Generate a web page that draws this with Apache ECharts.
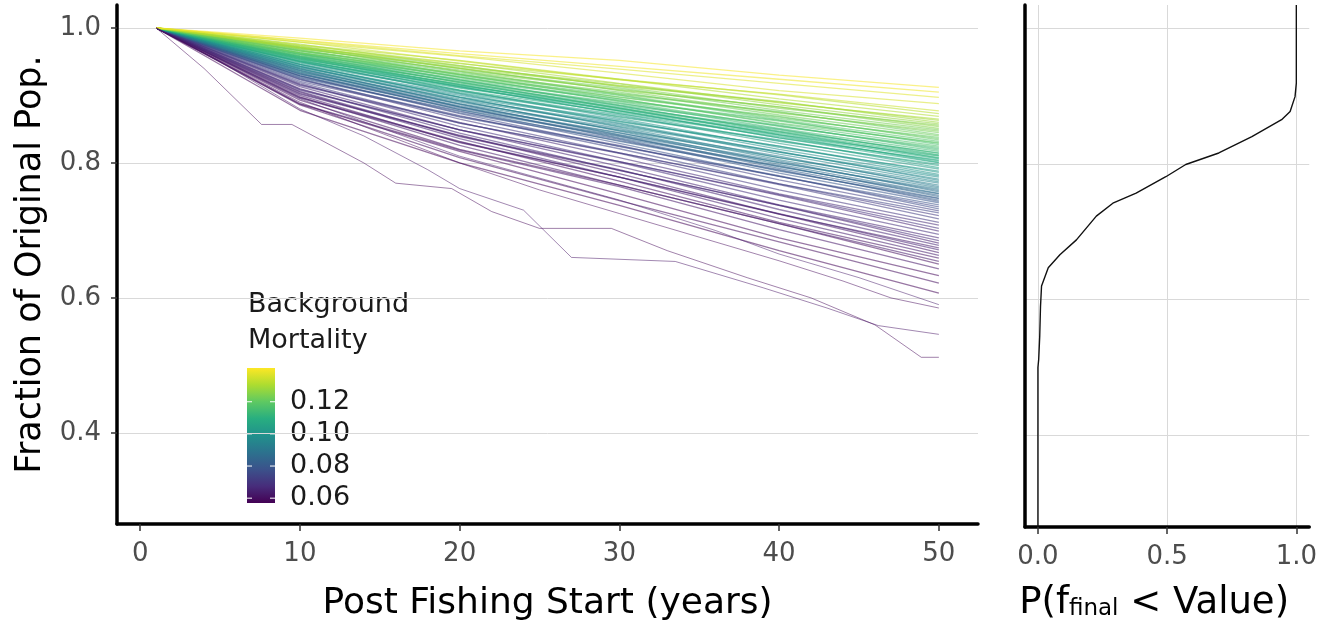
<!DOCTYPE html>
<html>
<head>
<meta charset="utf-8">
<script src="https://cdn.jsdelivr.net/npm/echarts@6/dist/echarts.min.js"></script>
<style>
html,body{margin:0;padding:0;background:#fff;}
#chart{width:1320px;height:627px;}
</style>
</head>
<body>
<div id="chart"></div>
<script>
// ---------------- data ----------------
const YEARS = [1, 10, 20, 30, 40, 50];

const MORTALITY = [
  0.058, 0.060, 0.059, 0.062, 0.060, 0.063, 0.061, 0.064, 0.062, 0.065,
  0.063, 0.066, 0.064, 0.067, 0.065, 0.068, 0.066, 0.069, 0.067, 0.070,
  0.072, 0.071, 0.074, 0.073, 0.076, 0.075, 0.078, 0.080, 0.079, 0.082,
  0.081, 0.083, 0.085, 0.084, 0.086, 0.087, 0.089, 0.088, 0.090, 0.092,
  0.091, 0.093, 0.094, 0.096, 0.095, 0.097, 0.098, 0.099, 0.100, 0.102,
  0.101, 0.103, 0.104, 0.106, 0.105, 0.107, 0.108, 0.109, 0.108, 0.110,
  0.109, 0.111, 0.110, 0.112, 0.111, 0.113, 0.112, 0.114, 0.115, 0.114,
  0.116, 0.117, 0.116, 0.118, 0.119, 0.118, 0.120, 0.121, 0.120, 0.122,
  0.121, 0.123, 0.124, 0.123, 0.125, 0.126, 0.125, 0.127, 0.128, 0.129,
  0.130, 0.131, 0.132, 0.134, 0.136, 0.139, 0.140, 0.137
];

const POP_FRACTION = [
  [1, 0.878, 0.800, 0.737, 0.670, 0.607],
  [1, 0.886, 0.808, 0.744, 0.683, 0.622],
  [1, 0.887, 0.817, 0.754, 0.689, 0.633],
  [1, 0.888, 0.819, 0.765, 0.701, 0.643],
  [1, 0.893, 0.820, 0.767, 0.710, 0.650],
  [1, 0.898, 0.826, 0.767, 0.710, 0.654],
  [1, 0.897, 0.832, 0.773, 0.712, 0.659],
  [1, 0.896, 0.831, 0.779, 0.718, 0.663],
  [1, 0.900, 0.830, 0.779, 0.724, 0.667],
  [1, 0.905, 0.836, 0.779, 0.725, 0.671],
  [1, 0.903, 0.841, 0.784, 0.724, 0.674],
  [1, 0.902, 0.840, 0.790, 0.731, 0.678],
  [1, 0.906, 0.839, 0.789, 0.737, 0.681],
  [1, 0.910, 0.844, 0.789, 0.737, 0.685],
  [1, 0.909, 0.849, 0.795, 0.738, 0.689],
  [1, 0.908, 0.849, 0.801, 0.745, 0.694],
  [1, 0.913, 0.849, 0.802, 0.752, 0.699],
  [1, 0.917, 0.854, 0.802, 0.753, 0.703],
  [1, 0.916, 0.860, 0.808, 0.754, 0.708],
  [1, 0.915, 0.859, 0.814, 0.760, 0.712],
  [1, 0.919, 0.859, 0.815, 0.768, 0.717],
  [1, 0.924, 0.865, 0.815, 0.769, 0.722],
  [1, 0.923, 0.870, 0.821, 0.769, 0.726],
  [1, 0.921, 0.869, 0.826, 0.775, 0.729],
  [1, 0.925, 0.868, 0.825, 0.781, 0.732],
  [1, 0.929, 0.873, 0.824, 0.780, 0.735],
  [1, 0.927, 0.877, 0.829, 0.780, 0.738],
  [1, 0.926, 0.876, 0.835, 0.785, 0.741],
  [1, 0.929, 0.874, 0.833, 0.790, 0.743],
  [1, 0.933, 0.879, 0.832, 0.789, 0.745],
  [1, 0.931, 0.883, 0.836, 0.788, 0.747],
  [1, 0.929, 0.881, 0.840, 0.792, 0.748],
  [1, 0.932, 0.879, 0.839, 0.796, 0.750],
  [1, 0.937, 0.883, 0.837, 0.795, 0.752],
  [1, 0.934, 0.887, 0.841, 0.794, 0.754],
  [1, 0.932, 0.885, 0.845, 0.798, 0.755],
  [1, 0.936, 0.883, 0.844, 0.803, 0.757],
  [1, 0.940, 0.887, 0.842, 0.801, 0.759],
  [1, 0.937, 0.892, 0.847, 0.800, 0.761],
  [1, 0.935, 0.890, 0.851, 0.805, 0.763],
  [1, 0.939, 0.888, 0.849, 0.810, 0.765],
  [1, 0.943, 0.892, 0.848, 0.808, 0.767],
  [1, 0.941, 0.897, 0.853, 0.808, 0.770],
  [1, 0.939, 0.895, 0.858, 0.813, 0.772],
  [1, 0.943, 0.893, 0.856, 0.817, 0.774],
  [1, 0.946, 0.897, 0.854, 0.816, 0.776],
  [1, 0.944, 0.902, 0.859, 0.816, 0.779],
  [1, 0.942, 0.900, 0.864, 0.820, 0.781],
  [1, 0.946, 0.898, 0.862, 0.825, 0.783],
  [1, 0.950, 0.903, 0.861, 0.825, 0.786],
  [1, 0.948, 0.907, 0.866, 0.823, 0.788],
  [1, 0.946, 0.906, 0.871, 0.829, 0.791],
  [1, 0.950, 0.904, 0.869, 0.834, 0.793],
  [1, 0.953, 0.908, 0.868, 0.833, 0.796],
  [1, 0.951, 0.913, 0.873, 0.832, 0.798],
  [1, 0.949, 0.911, 0.877, 0.837, 0.800],
  [1, 0.952, 0.908, 0.875, 0.841, 0.801],
  [1, 0.956, 0.913, 0.873, 0.839, 0.803],
  [1, 0.954, 0.916, 0.877, 0.837, 0.804],
  [1, 0.951, 0.914, 0.881, 0.842, 0.806],
  [1, 0.955, 0.912, 0.879, 0.846, 0.807],
  [1, 0.958, 0.916, 0.877, 0.844, 0.808],
  [1, 0.956, 0.920, 0.881, 0.842, 0.810],
  [1, 0.954, 0.917, 0.885, 0.846, 0.811],
  [1, 0.957, 0.915, 0.883, 0.850, 0.812],
  [1, 0.961, 0.919, 0.881, 0.849, 0.814],
  [1, 0.958, 0.923, 0.885, 0.847, 0.815],
  [1, 0.956, 0.921, 0.889, 0.851, 0.817],
  [1, 0.959, 0.919, 0.888, 0.856, 0.819],
  [1, 0.963, 0.923, 0.886, 0.855, 0.821],
  [1, 0.961, 0.927, 0.891, 0.854, 0.823],
  [1, 0.959, 0.925, 0.895, 0.858, 0.825],
  [1, 0.962, 0.923, 0.893, 0.863, 0.827],
  [1, 0.966, 0.927, 0.892, 0.862, 0.829],
  [1, 0.963, 0.931, 0.895, 0.859, 0.830],
  [1, 0.961, 0.929, 0.900, 0.864, 0.832],
  [1, 0.964, 0.927, 0.898, 0.869, 0.834],
  [1, 0.968, 0.931, 0.897, 0.868, 0.836],
  [1, 0.966, 0.935, 0.901, 0.866, 0.838],
  [1, 0.963, 0.933, 0.905, 0.871, 0.840],
  [1, 0.967, 0.931, 0.903, 0.876, 0.842],
  [1, 0.971, 0.936, 0.902, 0.875, 0.845],
  [1, 0.969, 0.940, 0.907, 0.874, 0.847],
  [1, 0.966, 0.938, 0.911, 0.878, 0.849],
  [1, 0.970, 0.936, 0.909, 0.883, 0.851],
  [1, 0.973, 0.940, 0.908, 0.883, 0.854],
  [1, 0.971, 0.944, 0.913, 0.881, 0.856],
  [1, 0.969, 0.942, 0.917, 0.886, 0.858],
  [1, 0.972, 0.940, 0.915, 0.891, 0.860],
  [1, 0.976, 0.944, 0.914, 0.890, 0.863],
  [1, 0.974, 0.948, 0.918, 0.889, 0.865],
  [1, 0.971, 0.947, 0.924, 0.895, 0.869],
  [1, 0.975, 0.952, 0.924, 0.901, 0.873],
  [1, 0.979, 0.951, 0.923, 0.902, 0.877],
  [1, 0.979, 0.958, 0.933, 0.907, 0.888],
  [1, 0.982, 0.962, 0.943, 0.924, 0.905],
  [1, 0.985, 0.966, 0.952, 0.930, 0.912],
  [1, 0.981, 0.959, 0.939, 0.918, 0.897]
];

// the few low, step-like trajectories
const OUTLIER_MORTALITY = [0.058, 0.061, 0.059, 0.063];
const OUTLIER_YEARS = [
  [1, 4, 7.6, 9.5, 14, 16, 19.5, 22, 25, 29.5, 33, 38, 42, 46, 48.9, 50],
  [1, 5, 10, 14, 18, 20, 24, 27, 33.5, 39, 43, 46.2, 50],
  [1, 10, 20, 25, 30, 35, 40, 44, 47, 50],
  [1, 10, 20, 30, 36, 40, 45, 50]
];
const OUTLIER_FRACTION = [
  [1, 0.940, 0.857, 0.857, 0.800, 0.770, 0.762, 0.728, 0.703, 0.703, 0.670, 0.630, 0.600, 0.560, 0.512, 0.512],
  [1, 0.950, 0.880, 0.840, 0.790, 0.762, 0.730, 0.660, 0.654, 0.615, 0.585, 0.559, 0.546],
  [1, 0.890, 0.800, 0.760, 0.725, 0.690, 0.655, 0.625, 0.600, 0.585],
  [1, 0.895, 0.810, 0.745, 0.700, 0.665, 0.630, 0.590]
];

// empirical CDF of the final fraction (right panel)
const CDF_P     = [0.000, 0.003, 0.007, 0.010, 0.014, 0.040, 0.085, 0.149, 0.226, 0.290, 0.380, 0.495, 0.572, 0.700, 0.828, 0.943, 0.976, 0.995, 1.000];
const CDF_VALUE = [0.500, 0.512, 0.546, 0.590, 0.620, 0.647, 0.666, 0.688, 0.723, 0.742, 0.757, 0.781, 0.799, 0.816, 0.840, 0.865, 0.877, 0.899, 0.919];

const X_TICKS = [0, 10, 20, 30, 40, 50];
const Y_TICKS = [0.4, 0.6, 0.8, 1.0];
const P_TICKS = [0, 0.5, 1.0];
const LEGEND_TICKS = [0.06, 0.08, 0.10, 0.12];

const X_RANGE = [-1.45, 52.45];
const Y_RANGE = [0.265, 1.034];
const P_RANGE = [-0.05, 1.05];
const MORT_RANGE = [0.057, 0.141];

const VIRIDIS = ['#440154', '#472d7b', '#3b528b', '#2c728e', '#21918c', '#28ae80', '#5ec962', '#addc30', '#fde725'];

// ---------------- helpers ----------------
function hexToRgb(h) {
  return [parseInt(h.slice(1, 3), 16), parseInt(h.slice(3, 5), 16), parseInt(h.slice(5, 7), 16)];
}
function viridis(m) {
  let t = (m - MORT_RANGE[0]) / (MORT_RANGE[1] - MORT_RANGE[0]);
  t = Math.max(0, Math.min(1, t));
  const s = t * (VIRIDIS.length - 1);
  const i = Math.min(VIRIDIS.length - 2, Math.floor(s));
  const f = s - i;
  const a = hexToRgb(VIRIDIS[i]), b = hexToRgb(VIRIDIS[i + 1]);
  const c = a.map((v, k) => Math.round(v + (b[k] - v) * f));
  return 'rgb(' + c.join(',') + ')';
}

const FONT = 'DejaVu Sans';
const GRID_LEFT = { left: 117, top: 5, width: 861, height: 522 };
const GRID_RIGHT = { left: 1025, top: 5, width: 287, height: 522 };

const series = [];
POP_FRACTION.forEach((row, i) => {
  series.push({
    type: 'line', xAxisIndex: 0, yAxisIndex: 0,
    data: YEARS.map((yr, j) => [yr, row[j]]),
    showSymbol: false, symbol: 'none', silent: true, z: 2,
    lineStyle: { color: viridis(MORTALITY[i]), width: 1.3, opacity: 0.55 }
  });
});
OUTLIER_FRACTION.forEach((row, i) => {
  series.push({
    type: 'line', xAxisIndex: 0, yAxisIndex: 0,
    data: OUTLIER_YEARS[i].map((yr, j) => [yr, row[j]]),
    showSymbol: false, symbol: 'none', silent: true, z: 2,
    lineStyle: { color: viridis(OUTLIER_MORTALITY[i]), width: 1.0, opacity: 0.5 }
  });
});
const cdfData = [[CDF_P[0], Y_RANGE[0]]]
  .concat(CDF_P.map((p, i) => [p, CDF_VALUE[i]]))
  .concat([[CDF_P[CDF_P.length - 1], Y_RANGE[1]]]);
series.push({
  type: 'line', xAxisIndex: 1, yAxisIndex: 1, data: cdfData,
  showSymbol: false, symbol: 'none', silent: true, z: 3,
  lineStyle: { color: '#111', width: 1.4 }
});

// ---------------- legend (colour bar) ----------------
const BAR = { x: 247, y: 368, w: 28, h: 135 };
function barY(v) {
  return BAR.y + (MORT_RANGE[1] - v) / (MORT_RANGE[1] - MORT_RANGE[0]) * BAR.h;
}
const graphics = [
  {
    type: 'text', left: 248, top: 287, silent: true,
    style: { text: 'Background\nMortality', font: '27px "' + FONT + '"', fill: '#1a1a1a', lineHeight: 36 }
  },
  {
    type: 'rect', shape: { x: BAR.x, y: BAR.y, width: BAR.w, height: BAR.h }, silent: true,
    style: {
      fill: new echarts.graphic.LinearGradient(0, 1, 0, 0,
        VIRIDIS.map((c, i) => ({ offset: i / (VIRIDIS.length - 1), color: c })))
    }
  }
];
LEGEND_TICKS.forEach(v => {
  const y = barY(v);
  graphics.push({
    type: 'text', silent: true, x: 290, y: y,
    style: { text: v.toFixed(2), font: '27px "' + FONT + '"', fill: '#1a1a1a', verticalAlign: 'middle', align: 'left' }
  });
  graphics.push({ type: 'line', silent: true, shape: { x1: BAR.x, y1: y, x2: BAR.x + 5, y2: y }, style: { stroke: '#fff', lineWidth: 1 } });
  graphics.push({ type: 'line', silent: true, shape: { x1: BAR.x + BAR.w - 5, y1: y, x2: BAR.x + BAR.w, y2: y }, style: { stroke: '#fff', lineWidth: 1 } });
});

const axisLine = { show: true, onZero: false, lineStyle: { color: '#000', width: 3.5 } };
const gridLine = { show: true, lineStyle: { color: '#d9d9d9', width: 1 } };
const tickLabel = { color: '#4d4d4d', fontSize: 26, fontFamily: FONT };

const option = {
  animation: false,
  backgroundColor: '#fff',
  grid: [GRID_LEFT, GRID_RIGHT],
  xAxis: [
    {
      type: 'value', gridIndex: 0, min: X_RANGE[0], max: X_RANGE[1],
      axisLine: axisLine,
      axisTick: { show: true, customValues: X_TICKS, length: 7, lineStyle: { color: '#333', width: 1.5 } },
      axisLabel: Object.assign({ customValues: X_TICKS, margin: 17, formatter: v => String(v) }, tickLabel),
      splitLine: { show: false },
      name: 'Post Fishing Start (years)', nameLocation: 'middle', nameGap: 62,
      nameTextStyle: { fontSize: 36, fontFamily: FONT, color: '#000' }
    },
    {
      type: 'value', gridIndex: 1, min: P_RANGE[0], max: P_RANGE[1],
      axisLine: axisLine,
      axisTick: { show: true, customValues: P_TICKS, length: 7, lineStyle: { color: '#333', width: 1.5 } },
      axisLabel: Object.assign({ customValues: P_TICKS, margin: 17, formatter: v => v.toFixed(1) }, tickLabel),
      splitLine: gridLine,
      name: '{n|P(f}{s|final}{n| < Value)}', nameLocation: 'middle', nameGap: 58,
      nameTextStyle: {
        padding: [0, 26, 0, 0],
        rich: {
          n: { fontSize: 37, fontFamily: FONT, color: '#000', verticalAlign: 'top', lineHeight: 44 },
          s: { fontSize: 23, fontFamily: FONT, color: '#000', verticalAlign: 'top', lineHeight: 44, padding: [13, 0, 0, 0] }
        }
      }
    }
  ],
  yAxis: [
    {
      type: 'value', gridIndex: 0, min: Y_RANGE[0], max: Y_RANGE[1],
      axisLine: axisLine,
      axisTick: { show: true, customValues: Y_TICKS, length: 6, lineStyle: { color: '#333', width: 1.5 } },
      axisLabel: Object.assign({ customValues: Y_TICKS, margin: 16, formatter: v => v.toFixed(1) }, tickLabel),
      splitLine: gridLine,
      name: 'Fraction of Original Pop.', nameLocation: 'middle', nameGap: 60,
      nameTextStyle: { fontSize: 35, fontFamily: FONT, color: '#000' }
    },
    {
      type: 'value', gridIndex: 1, min: Y_RANGE[0], max: Y_RANGE[1],
      axisLine: axisLine,
      axisTick: { show: false, customValues: Y_TICKS },
      axisLabel: { show: false, customValues: Y_TICKS },
      splitLine: gridLine
    }
  ],
  graphic: graphics,
  series: series
};

const chart = echarts.init(document.getElementById('chart'), null, { renderer: 'canvas' });
chart.setOption(option);
</script>
</body>
</html>
